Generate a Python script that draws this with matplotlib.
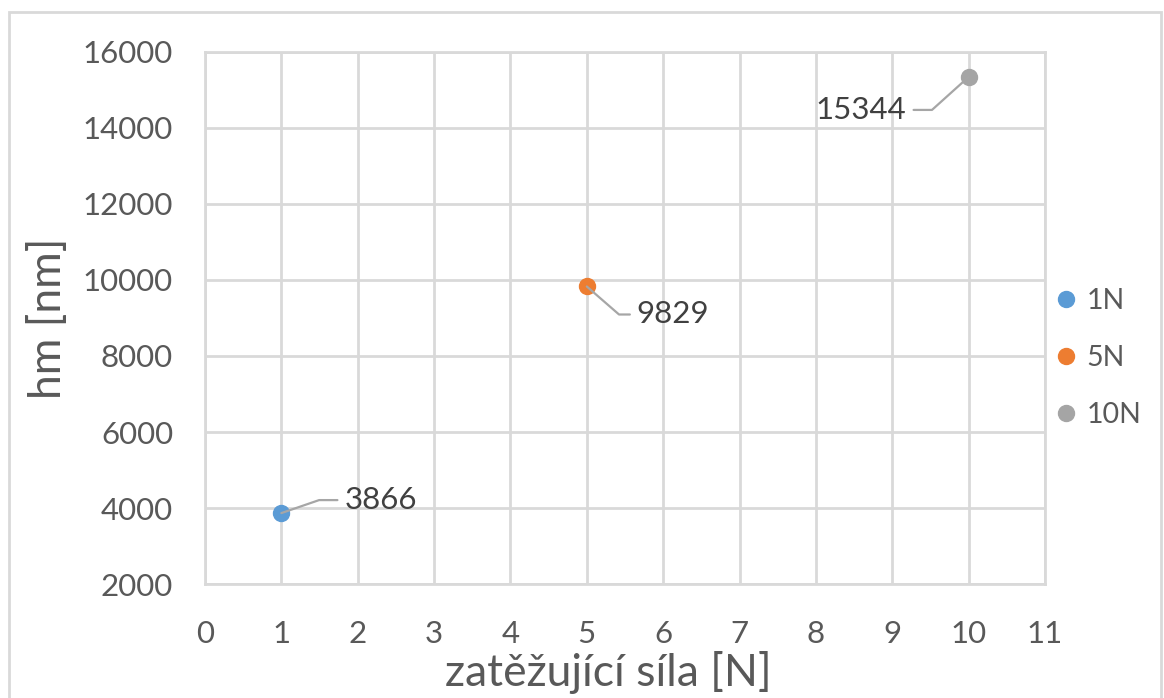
import numpy as np
import matplotlib.pyplot as plt
from matplotlib.patches import Rectangle

plt.rcParams['font.family'] = ['Lato', 'DejaVu Sans']

# measured values
loads = [1, 5, 10]
hm = [3866, 9829, 15344]
labels = ['1N', '5N', '10N']
colors = ['#5B9BD5', '#ED7D31', '#A5A5A5']

xticks = np.arange(0, 12, 1)
yticks = np.arange(2000, 16001, 2000)

text_col = '#595959'
grid_col = '#D9D9D9'

fig = plt.figure(figsize=(11.64, 6.98), dpi=100)
ax = fig.add_axes([205/1164, 1 - 584/698, 840/1164, 532/698])

for x, y, lab, c in zip(loads, hm, labels, colors):
    ax.plot(x, y, 'o', color=c, markersize=11.5, label=lab, zorder=3)

ax.set_xlim(0, 11)
ax.set_ylim(2000, 16000)
ax.set_xticks(xticks)
ax.set_yticks(yticks)
ax.grid(True, color=grid_col, linewidth=2)
ax.set_axisbelow(True)
for s in ax.spines.values():
    s.set_color(grid_col)
    s.set_linewidth(2)
ax.tick_params(length=0, labelsize=22.5, labelcolor=text_col)
ax.tick_params(axis='x', pad=26)
ax.tick_params(axis='y', pad=23)

ax.set_xlabel('zatěžující síla [N]', fontsize=32, color=text_col, labelpad=2)
ax.xaxis.set_label_coords(0.48, -0.125)
ax.set_ylabel('hm [nm]', fontsize=32, color=text_col, labelpad=10)

# data labels with leader lines (offsets in pixels, elbow angle in degrees)
label_pos = [(63, 13, 'left', 19), (50, -28, 'left', -41), (-62, -33, 'right', 42)]
for x, y, (dx, dy, ha, ang) in zip(loads, hm, label_pos):
    ax.annotate(f'{y}', xy=(x, y), xytext=(dx, dy), textcoords='offset pixels',
                ha=ha, va='center', fontsize=22.5, color='#404040',
                arrowprops=dict(arrowstyle='-', color='#A6A6A6', lw=1.6,
                                connectionstyle=f'angle,angleA=0,angleB={ang},rad=0',
                                shrinkA=3, shrinkB=0))

ax.legend(loc='center left', bbox_to_anchor=(1055/1164, 1 - 358/698),
          bbox_transform=fig.transFigure, frameon=False,
          fontsize=20.5, labelcolor=text_col, handletextpad=0.3,
          labelspacing=1.1, borderaxespad=0, borderpad=0, handlelength=0.8)

# outer chart border
fig.patches.append(Rectangle((9/1164, -0.05), 1152/1164, 1.05 - 12/698,
                             transform=fig.transFigure, fill=False,
                             edgecolor=grid_col, linewidth=2))

fig.savefig('out.png', dpi=100)
